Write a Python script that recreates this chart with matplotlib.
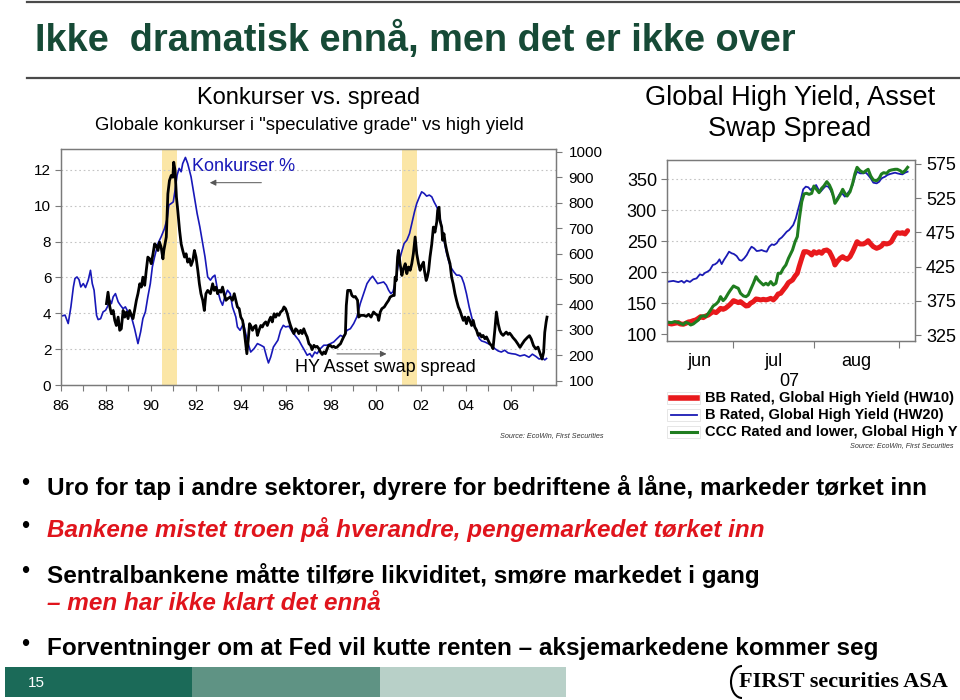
import matplotlib
matplotlib.use('Agg')
import matplotlib.pyplot as plt
from matplotlib.ticker import FixedLocator, FixedFormatter, NullFormatter
from matplotlib.patches import Rectangle, Arc
from matplotlib.lines import Line2D

plt.rcParams['font.family'] = ['Liberation Sans', 'DejaVu Sans']
SLIDE_FONT = ['Liberation Sans', 'DejaVu Sans']

# ---- left chart: default rate (%) vs HY asset swap spread (bp) ----
konk_year = [1986.00, 1986.18, 1986.32, 1986.44, 1986.55, 1986.62, 1986.71, 1986.80, 1986.88, 1986.99,
             1987.09, 1987.21, 1987.31, 1987.39, 1987.47, 1987.58, 1987.65, 1987.76, 1987.87, 1987.98,
             1988.06, 1988.17, 1988.24, 1988.32, 1988.42, 1988.54, 1988.64, 1988.76, 1988.86, 1988.98,
             1989.13, 1989.27, 1989.42, 1989.54, 1989.64, 1989.75, 1989.86, 1989.97, 1990.06, 1990.16,
             1990.31, 1990.45, 1990.60, 1990.72, 1990.79, 1990.90, 1990.99, 1991.07, 1991.16, 1991.25,
             1991.34, 1991.41, 1991.53, 1991.63, 1991.78, 1991.93, 1992.05, 1992.17, 1992.30, 1992.40,
             1992.52, 1992.64, 1992.74, 1992.84, 1992.96, 1993.08, 1993.18, 1993.28, 1993.40, 1993.52,
             1993.62, 1993.77, 1993.84, 1993.96, 1994.11, 1994.21, 1994.32, 1994.43, 1994.58, 1994.73,
             1994.88, 1995.02, 1995.14, 1995.22, 1995.32, 1995.44, 1995.54, 1995.64, 1995.76, 1995.88,
             1995.98, 1996.13, 1996.28, 1996.43, 1996.57, 1996.69, 1996.82, 1996.94, 1997.06, 1997.16,
             1997.28, 1997.38, 1997.53, 1997.68, 1997.83, 1997.97, 1998.12, 1998.27, 1998.42, 1998.56,
             1998.71, 1998.86, 1999.01, 1999.15, 1999.30, 1999.45, 1999.60, 1999.75, 1999.85, 1999.97,
             2000.07, 2000.19, 2000.34, 2000.46, 2000.56, 2000.66, 2000.75, 2000.81, 2000.90, 2001.00,
             2001.12, 2001.25, 2001.37, 2001.49, 2001.59, 2001.71, 2001.81, 2001.93, 2002.03, 2002.14,
             2002.25, 2002.37, 2002.48, 2002.58, 2002.70, 2002.82, 2002.92, 2003.02, 2003.14, 2003.26,
             2003.36, 2003.46, 2003.58, 2003.70, 2003.80, 2003.91, 2004.02, 2004.14, 2004.25, 2004.35,
             2004.47, 2004.59, 2004.69, 2004.84, 2004.98, 2005.13, 2005.28, 2005.43, 2005.57, 2005.72,
             2005.87, 2006.02, 2006.20, 2006.40, 2006.60, 2006.80, 2006.95, 2007.10, 2007.25, 2007.40,
             2007.50, 2007.58]
konk_pct = [3.84, 3.90, 3.43, 4.36, 5.47, 5.94, 6.03, 5.88, 5.47, 5.66,
            5.44, 5.85, 6.40, 5.66, 5.29, 3.89, 3.65, 3.70, 4.08, 4.17,
            4.36, 4.73, 4.54, 4.92, 5.10, 4.64, 4.45, 4.26, 4.36, 4.08,
            3.80, 3.15, 2.31, 2.97, 3.71, 4.08, 4.92, 5.66, 6.59, 7.15,
            7.90, 8.27, 8.73, 9.29, 10.04, 10.13, 10.22, 10.87, 11.71, 12.09,
            11.90, 12.36, 12.70, 12.36, 11.62, 10.50, 9.57, 8.83, 7.90, 7.15,
            6.03, 5.85, 6.03, 6.13, 5.29, 4.73, 4.45, 4.92, 5.29, 5.10,
            4.36, 3.80, 3.24, 3.05, 3.43, 2.87, 2.31, 1.84, 2.03, 2.31,
            2.22, 2.12, 1.56, 1.23, 1.56, 2.12, 2.31, 2.50, 3.05, 3.33,
            3.24, 3.28, 2.97, 2.72, 2.50, 2.22, 1.94, 1.66, 1.75, 1.56,
            1.84, 1.75, 2.03, 2.22, 2.22, 2.31, 2.40, 2.59, 2.77, 2.68,
            3.05, 3.14, 3.43, 3.80, 4.54, 5.10, 5.66, 5.94, 6.07, 5.85,
            5.66, 5.70, 5.75, 5.57, 5.29, 5.10, 5.20, 5.47, 6.03, 6.78,
            7.34, 7.90, 8.08, 8.45, 9.01, 9.66, 10.13, 10.50, 10.78, 10.69,
            10.54, 10.60, 10.50, 10.22, 9.94, 9.48, 8.83, 8.08, 7.34, 6.78,
            6.50, 6.31, 6.13, 6.13, 6.03, 5.66, 5.10, 4.36, 3.80, 3.33,
            3.05, 2.59, 2.46, 2.40, 2.31, 2.22, 2.03, 1.90, 1.84, 1.94,
            1.79, 1.75, 1.72, 1.62, 1.68, 1.55, 1.72, 1.60, 1.45, 1.50,
            1.40, 1.48]

hy_year = [1988.02, 1988.09, 1988.17, 1988.24, 1988.32, 1988.39, 1988.46, 1988.54, 1988.61, 1988.68,
           1988.76, 1988.83, 1988.91, 1988.98, 1989.05, 1989.13, 1989.20, 1989.27, 1989.35, 1989.42,
           1989.50, 1989.57, 1989.64, 1989.72, 1989.79, 1989.86, 1989.94, 1990.01, 1990.09, 1990.16,
           1990.23, 1990.31, 1990.38, 1990.45, 1990.53, 1990.57, 1990.68, 1990.75, 1990.82, 1990.90,
           1990.97, 1991.01, 1991.07, 1991.13, 1991.19, 1991.27, 1991.34, 1991.41, 1991.49, 1991.56,
           1991.63, 1991.71, 1991.78, 1991.86, 1991.93, 1992.00, 1992.08, 1992.15, 1992.22, 1992.30,
           1992.37, 1992.44, 1992.52, 1992.64, 1992.74, 1992.81, 1992.89, 1992.96, 1993.03, 1993.11,
           1993.18, 1993.25, 1993.33, 1993.40, 1993.52, 1993.62, 1993.70, 1993.77, 1993.84, 1993.92,
           1993.99, 1994.07, 1994.14, 1994.21, 1994.26, 1994.32, 1994.38, 1994.43, 1994.51, 1994.58,
           1994.66, 1994.73, 1994.80, 1994.88, 1994.95, 1995.02, 1995.10, 1995.17, 1995.25, 1995.32,
           1995.39, 1995.47, 1995.54, 1995.61, 1995.69, 1995.76, 1995.84, 1995.91, 1995.98, 1996.06,
           1996.13, 1996.20, 1996.28, 1996.35, 1996.43, 1996.50, 1996.57, 1996.65, 1996.72, 1996.79,
           1996.87, 1996.94, 1997.02, 1997.09, 1997.16, 1997.24, 1997.31, 1997.38, 1997.46, 1997.53,
           1997.61, 1997.68, 1997.75, 1997.83, 1997.90, 1997.97, 1998.05, 1998.12, 1998.20, 1998.27,
           1998.34, 1998.42, 1998.49, 1998.56, 1998.64, 1998.68, 1998.74, 1998.86, 1998.93, 1999.01,
           1999.08, 1999.18, 1999.23, 1999.33, 1999.45, 1999.57, 1999.67, 1999.78, 1999.89, 1999.97,
           2000.07, 2000.12, 2000.19, 2000.26, 2000.37, 2000.46, 2000.56, 2000.63, 2000.75, 2000.81,
           2000.85, 2000.90, 2000.96, 2001.00, 2001.07, 2001.15, 2001.22, 2001.30, 2001.37, 2001.44,
           2001.52, 2001.59, 2001.66, 2001.74, 2001.81, 2001.89, 2001.96, 2002.03, 2002.11, 2002.15,
           2002.23, 2002.28, 2002.34, 2002.40, 2002.48, 2002.55, 2002.62, 2002.70, 2002.74, 2002.80,
           2002.84, 2002.92, 2002.96, 2003.02, 2003.08, 2003.14, 2003.21, 2003.29, 2003.36, 2003.43,
           2003.51, 2003.58, 2003.66, 2003.73, 2003.80, 2003.88, 2003.95, 2004.02, 2004.10, 2004.17,
           2004.25, 2004.32, 2004.39, 2004.47, 2004.54, 2004.61, 2004.69, 2004.76, 2004.84, 2004.91,
           2004.98, 2005.06, 2005.13, 2005.20, 2005.28, 2005.35, 2005.43, 2005.50, 2005.57, 2005.65,
           2005.72, 2005.79, 2005.87, 2005.94, 2006.02, 2006.08, 2006.20, 2006.30, 2006.40, 2006.50,
           2006.60, 2006.74, 2006.82, 2006.90, 2007.00, 2007.10, 2007.20, 2007.30, 2007.38, 2007.45,
           2007.50, 2007.56, 2007.60]
hy_spread = [403, 448, 390, 363, 376, 337, 317, 350, 298, 304,
             376, 350, 370, 344, 376, 357, 344, 376, 416, 442,
             481, 468, 507, 475, 534, 586, 579, 560, 599, 638,
             632, 612, 645, 625, 579, 612, 665, 835, 887, 907,
             900, 959, 926, 822, 769, 691, 638, 612, 586, 599,
             566, 579, 553, 573, 612, 586, 534, 481, 442, 416,
             376, 442, 455, 442, 481, 455, 468, 442, 455, 448,
             468, 442, 416, 422, 429, 416, 442, 416, 390, 383,
             350, 337, 298, 245, 206, 259, 324, 317, 298, 311,
             317, 278, 298, 317, 311, 324, 331, 317, 337, 350,
             331, 363, 350, 363, 357, 370, 376, 390, 383, 363,
             337, 317, 298, 285, 304, 298, 285, 298, 285, 304,
             285, 272, 245, 239, 222, 239, 232, 235, 226, 213,
             203, 213, 206, 226, 239, 239, 232, 235, 230, 232,
             239, 245, 259, 272, 285, 396, 455, 455, 435, 429,
             431, 416, 350, 357, 357, 353, 361, 350, 370, 363,
             357, 337, 370, 383, 390, 403, 416, 429, 435, 435,
             507, 494, 586, 612, 560, 514, 540, 560, 521, 547,
             534, 560, 599, 665, 599, 560, 534, 553, 566, 534,
             494, 507, 534, 586, 638, 704, 684, 724, 769, 782,
             730, 704, 652, 678, 638, 612, 586, 560, 507, 481,
             442, 416, 390, 376, 357, 337, 350, 324, 350, 337,
             317, 337, 311, 298, 278, 285, 272, 278, 265, 272,
             259, 245, 239, 226, 298, 370, 324, 298, 285, 278,
             285, 291, 282, 287, 278, 270, 258, 245, 231, 245,
             258, 271, 277, 264, 238, 225, 232, 205, 185, 212,
             290, 330, 350]

year_ticks = [1986, 1988, 1990, 1992, 1994, 1996, 1998, 2000, 2002, 2004, 2006]
year_labels = ['86', '88', '90', '92', '94', '96', '98', '00', '02', '04', '06']
recessions = [(1990.49, 1991.14), (2001.17, 2001.82)]

# ---- right chart: asset swap spread by rating, summer 2007 (business days) ----
bb_day = [0.45, 1.3, 2.2, 3.15, 3.7, 4.5, 5.2, 5.9, 6.5, 7.2, 7.9, 8.6, 9.2, 9.9, 10.6, 11.3,
          11.9, 12.6, 13.4, 14.0, 14.6, 15.3, 15.9, 16.7, 17.3, 18.1, 18.8, 19.4, 20.0, 20.8,
          21.5, 22.1, 22.7, 23.5, 24.2, 24.8, 25.5, 26.2, 26.9, 27.5, 28.2, 28.9, 29.6, 30.2,
          30.9, 31.6, 32.3, 33.0, 34.1, 34.8, 35.4, 35.9, 36.6, 37.2, 37.9, 38.6, 39.3, 39.9,
          40.6, 41.3, 42.0, 42.6, 43.4, 44.1, 44.7, 45.2, 45.6, 46.2, 47.0, 47.7, 48.3, 48.9,
          49.7, 50.4, 51.0, 51.6, 52.4, 53.3, 54.0, 54.6, 55.3, 56.0, 56.9, 57.6, 58.2, 58.8,
          59.6, 60.3, 60.9, 61.9, 62.5, 63.3, 63.9, 64.6, 65.3]
bb_val = [117.7, 116.6, 117.7, 118.8, 116.6, 116.1, 117.7, 119.9, 120.4, 122.0, 123.1, 125.8,
          128.4, 126.8, 129.5, 131.1, 133.8, 136.5, 134.9, 138.1, 141.8, 140.2, 141.8, 145.6,
          148.8, 154.2, 152.6, 151.0, 152.6, 148.8, 145.6, 146.1, 149.9, 152.6, 156.9, 156.3,
          155.3, 156.3, 155.3, 156.3, 157.9, 155.3, 159.5, 164.9, 166.0, 171.4, 176.7, 183.2,
          187.4, 193.9, 198.2, 208.9, 222.3, 233.0, 233.0, 231.4, 227.7, 233.0, 230.4, 233.0,
          230.4, 234.7, 235.7, 233.0, 226.1, 219.6, 211.6, 217.0, 222.3, 225.0, 222.3, 220.7,
          225.0, 233.0, 241.0, 249.1, 245.4, 245.4, 247.5, 250.7, 245.4, 241.1, 238.4, 240.0,
          242.2, 246.5, 245.4, 246.5, 249.1, 259.9, 263.6, 262.5, 263.6, 261.5, 266.8]

b_day = [0.45, 1.8, 3.15, 4.06, 4.7, 5.4, 6.3, 7.2, 8.1, 9.0, 9.7, 10.4, 11.0, 11.7, 12.5,
         13.1, 13.7, 14.3, 14.9, 15.5, 16.2, 16.9, 17.6, 18.2, 18.96, 19.7, 20.3, 21.0, 21.7,
         22.4, 23.0, 23.7, 24.4, 25.1, 25.7, 26.4, 27.1, 27.8, 28.5, 29.1, 29.8, 30.5, 31.2,
         31.8, 32.5, 33.2, 34.3, 35.0, 35.7, 36.3, 37.0, 37.7, 38.4, 39.0, 39.7, 40.5, 41.1,
         41.7, 42.5, 43.1, 43.8, 44.4, 45.2, 45.6, 46.2, 47.0, 47.7, 48.3, 48.9, 49.7, 50.4,
         51.0, 51.6, 52.4, 53.3, 54.0, 54.6, 55.3, 56.0, 56.9, 57.6, 58.2, 59.2, 59.8, 60.5,
         61.2, 61.9, 62.5, 63.3, 63.9, 64.6, 65.3]
b_val = [184.8, 186.0, 184.0, 186.0, 183.0, 186.5, 184.3, 188.5, 190.0, 196.6, 195.0, 199.0,
         200.6, 203.5, 211.6, 212.7, 215.4, 220.7, 213.0, 219.6, 226.0, 233.0, 230.4, 229.3,
         226.0, 219.6, 218.5, 222.3, 227.6, 235.7, 241.0, 238.4, 234.0, 234.6, 235.7, 234.0,
         233.0, 241.0, 244.8, 243.7, 246.5, 252.9, 256.0, 260.0, 265.0, 268.0, 276.0, 286.7,
         302.8, 316.0, 333.4, 337.7, 336.6, 332.3, 336.6, 340.3, 333.4, 329.6, 335.0, 338.7,
         337.7, 332.3, 321.6, 312.0, 318.9, 327.0, 325.9, 321.6, 325.9, 332.3, 340.3, 353.8,
         361.8, 359.1, 359.1, 360.2, 356.4, 351.0, 344.1, 343.0, 345.7, 351.0, 353.8, 356.4,
         358.0, 359.1, 360.2, 359.1, 358.0, 357.5, 360.2, 361.8]

ccc_day = [0.45, 1.3, 2.2, 3.15, 3.7, 4.5, 5.2, 5.9, 6.5, 7.2, 7.9, 8.6, 9.2, 9.9, 10.6, 11.3,
           11.9, 12.6, 13.4, 14.0, 14.6, 15.3, 15.9, 16.7, 17.3, 18.1, 18.8, 19.4, 20.0, 20.8,
           21.5, 22.1, 22.7, 23.5, 24.2, 24.8, 25.5, 26.2, 26.9, 27.5, 28.2, 28.9, 29.6, 30.2,
           30.9, 31.6, 32.3, 33.0, 34.1, 34.8, 35.4, 35.9, 36.6, 37.2, 37.9, 38.6, 39.3, 39.9,
           40.6, 41.3, 42.0, 42.6, 43.4, 44.1, 44.7, 45.2, 45.6, 46.2, 47.0, 47.7, 48.3, 48.9,
           49.7, 50.4, 51.0, 51.6, 52.4, 53.3, 54.0, 54.6, 55.3, 56.0, 56.9, 57.6, 58.2, 58.8,
           59.6, 60.3, 60.9, 61.9, 62.5, 63.3, 63.9, 64.6, 65.3]
ccc_val = [119.3, 118.8, 120.4, 118.8, 117.7, 115.6, 119.3, 117.7, 115.0, 116.6, 119.9, 123.1,
           128.4, 130.0, 128.4, 133.8, 139.2, 145.6, 148.8, 152.6, 160.6, 154.2, 157.9, 166.0,
           171.4, 177.8, 175.6, 174.0, 166.0, 161.7, 160.6, 163.3, 171.4, 182.1, 192.8, 187.4,
           183.2, 179.4, 182.1, 179.4, 184.8, 179.4, 182.1, 198.2, 198.2, 206.2, 211.6, 222.3,
           235.7, 249.1, 257.2, 284.0, 313.5, 325.9, 327.0, 325.3, 327.0, 338.7, 333.4, 328.0,
           335.0, 338.7, 345.7, 340.3, 332.3, 321.6, 310.8, 316.2, 324.2, 333.4, 327.0, 322.6,
           329.6, 343.0, 358.0, 368.8, 363.4, 360.2, 363.4, 365.6, 354.8, 348.4, 347.3, 351.1,
           358.0, 360.2, 359.1, 363.4, 364.5, 365.6, 365.6, 363.4, 360.2, 363.4, 368.8]

month_edges = [18.0, 40.0, 63.0]
month_mid = [9.0, 29.0, 51.5]
month_labels = ['jun', 'jul', 'aug']
legend_labels = ['BB Rated, Global High Yield (HW10)', 'B Rated, Global High Yield (HW20)',
                 'CCC Rated and lower, Global High Y']

bullets = ['Uro for tap i andre sektorer, dyrere for bedriftene å låne, markeder tørket inn',
           'Bankene mistet troen på hverandre, pengemarkedet tørket inn',
           'Sentralbankene måtte tilføre likviditet, smøre markedet i gang',
           'Forventninger om at Fed vil kutte renten – aksjemarkedene kommer seg']
sub_bullet = '– men har ikke klart det ennå'

W, H = 960, 700


def fx(x):
    return x / W


def fy(y):
    return 1 - y / H


fig = plt.figure(figsize=(9.6, 7), dpi=100)
fig.patch.set_facecolor('white')

SPINE = '#7a7a7a'

# header
fig.add_artist(Line2D([fx(27), 1], [fy(2), fy(2)], color='#4a4a4a', lw=1.6))
fig.add_artist(Line2D([fx(27), 1], [fy(78), fy(78)], color='#4a4a4a', lw=1.6))
fig.text(fx(35), fy(40), 'Ikke  dramatisk ennå, men det er ikke over', family=SLIDE_FONT,
         fontsize=27.3, fontweight='bold', color='#164a36', va='center', ha='left')

# ---------------- left chart ----------------
ax1 = fig.add_axes([fx(61), fy(385), (556 - 61) / W, (385 - 149) / H])
for a, b in recessions:
    ax1.axvspan(a, b, color='#fbe6a6', lw=0, zorder=0)
ax1.plot(konk_year, konk_pct, color='#1818b8', lw=1.2, zorder=3)
ax1.set_xlim(1986, 2008)
ax1.set_ylim(0, 13.17)
ax1.xaxis.set_major_locator(FixedLocator(year_ticks))
ax1.xaxis.set_major_formatter(FixedFormatter(year_labels))
ax1.xaxis.set_minor_locator(FixedLocator(list(range(1987, 2008, 2))))
ax1.set_yticks([0, 2, 4, 6, 8, 10, 12])
ax1.tick_params(axis='both', which='both', direction='out', color=SPINE, labelsize=11, length=4, width=0.8)
ax1.tick_params(axis='x', pad=6)
ax1.tick_params(axis='y', pad=3)
for v in [2, 4, 6, 8, 10, 12]:
    ax1.axhline(v, color='#c4c4c4', lw=0.8, ls=(0, (1.5, 2.5)), zorder=1)
for s in ax1.spines.values():
    s.set_color(SPINE)
    s.set_linewidth(0.9)

ax2 = ax1.twinx()
ax2.plot(hy_year, hy_spread, color='black', lw=2.0, zorder=4)
ax2.set_ylim(83, 1011)
ax2.set_yticks(list(range(100, 1001, 100)))
ax2.tick_params(axis='y', direction='out', color=SPINE, labelsize=11, length=4, width=0.8, pad=5)
for s in ax2.spines.values():
    s.set_color(SPINE)
    s.set_linewidth(0.9)

ax1.text(1991.83, 12.18, 'Konkurser %', color='#1818b8', fontsize=13, va='center', ha='left', zorder=6)
ax1.annotate('', xy=(1992.49, 11.29), xytext=(1995.03, 11.29),
             arrowprops=dict(arrowstyle='-|>', color='#555555', lw=0.7, mutation_scale=9))
ax1.text(1996.42, 0.98, 'HY Asset swap spread', color='black', fontsize=13, va='center', ha='left', zorder=6)
ax1.annotate('', xy=(2000.59, 1.735), xytext=(1998.14, 1.735),
             arrowprops=dict(arrowstyle='-|>', color='#555555', lw=0.7, mutation_scale=9))

fig.text(fx(309), fy(98), 'Konkurser vs. spread', fontsize=17, ha='center', va='center')
fig.text(fx(309), fy(125), 'Globale konkurser i "speculative grade" vs high yield', fontsize=13.3,
         ha='center', va='center')
fig.text(fx(604), fy(436), 'Source: EcoWin, First Securities', fontsize=5.2, style='italic',
         ha='right', va='center', color='#333333')

# ---------------- right chart ----------------
axr = fig.add_axes([fx(666.7), fy(340.5), (915 - 666.7) / W, (340.5 - 160) / H])
axr.plot(bb_day, bb_val, color='#e8191c', lw=3.6, solid_capstyle='round', zorder=3)
axr.plot(b_day, b_val, color='#1a1ab4', lw=1.3, zorder=4)
axr.plot(ccc_day, ccc_val, color='#1f7d1f', lw=2.2, zorder=5)
axr.set_xlim(0, 67.3)
axr.set_ylim(90, 380.6)
axr.set_yticks([100, 150, 200, 250, 300, 350])
axr.xaxis.set_major_locator(FixedLocator(month_edges))
axr.xaxis.set_major_formatter(NullFormatter())
axr.xaxis.set_minor_locator(FixedLocator(month_mid))
axr.xaxis.set_minor_formatter(FixedFormatter(month_labels))
axr.tick_params(axis='x', which='major', direction='out', length=5, color=SPINE, width=0.8)
axr.tick_params(axis='x', which='minor', length=0, labelsize=13, pad=9)
axr.tick_params(axis='y', direction='out', length=4, color=SPINE, labelsize=13, pad=3, width=0.8)
for v in [150, 200, 250, 300, 350]:
    axr.axhline(v, color='#c4c4c4', lw=0.8, ls=(0, (1.5, 2.5)), zorder=1)
for s in axr.spines.values():
    s.set_color(SPINE)
    s.set_linewidth(0.9)

axr2 = axr.twinx()
axr2.set_ylim(317, 580.8)
axr2.set_yticks([325, 375, 425, 475, 525, 575])
axr2.tick_params(axis='y', direction='out', length=4, color=SPINE, labelsize=13, pad=4, width=0.8)
for s in axr2.spines.values():
    s.set_color(SPINE)
    s.set_linewidth(0.9)

fig.text(fx(790), fy(98), 'Global High Yield, Asset', fontsize=19.5, ha='center', va='center')
fig.text(fx(790), fy(129), 'Swap Spread', fontsize=19.5, ha='center', va='center')
fig.text(fx(789), fy(382), '07', fontsize=13, ha='center', va='center')

leg_y = [398, 415, 432]
leg_style = [('#e8191c', 4.0), ('#1a1ab4', 1.3), ('#1f7d1f', 2.2)]
for yy, (c, lw), lab in zip(leg_y, leg_style, legend_labels):
    fig.add_artist(Rectangle((fx(667), fy(yy + 6)), 33 / W, 12 / H, transform=fig.transFigure,
                             facecolor='none', edgecolor='#e2e2e2', lw=0.6))
    fig.add_artist(Line2D([fx(671), fx(697)], [fy(yy), fy(yy)], color=c, lw=lw))
    fig.text(fx(705), fy(yy), lab, fontsize=10.5, fontweight='bold', ha='left', va='center')
fig.text(fx(954), fy(446), 'Source: EcoWin, First Securities', fontsize=5.2, style='italic',
         ha='right', va='center', color='#333333')

# ---------------- bullets ----------------
bullet_y = [487, 530, 575, 648]
bullet_col = ['black', '#e0141c', 'black', 'black']
bullet_style = ['normal', 'italic', 'normal', 'normal']
for yy, txt, c, st in zip(bullet_y, bullets, bullet_col, bullet_style):
    fig.text(fx(21), fy(yy - 3), '•', family=SLIDE_FONT, fontsize=17, ha='left', va='center', color='black')
    fig.text(fx(47), fy(yy), txt, family=SLIDE_FONT, fontsize=17.5, fontweight='bold', style=st,
             color=c, ha='left', va='center')
fig.text(fx(47), fy(604), sub_bullet, family=SLIDE_FONT, fontsize=17.5, fontweight='bold', style='italic',
         color='#e0141c', ha='left', va='center')

# ---------------- footer ----------------
for x0, x1, c in [(5, 192, '#1b6a58'), (192, 380, '#5f9384'), (380, 566, '#b8d0c8')]:
    fig.add_artist(Rectangle((fx(x0), fy(697)), (x1 - x0) / W, 30 / H, transform=fig.transFigure,
                             facecolor=c, edgecolor='none'))
fig.text(fx(28), fy(683), '15', color='white', fontsize=11, ha='left', va='center')
fig.add_artist(Arc((fx(742), fy(682)), 22 / W, 32 / H, theta1=90, theta2=270,
                   transform=fig.transFigure, color='black', lw=1.5))
fig.text(fx(948), fy(682), 'FIRST securities ASA', family=['Liberation Serif', 'DejaVu Serif'],
         fontsize=16, fontweight='bold', ha='right', va='center')

fig.savefig('out.png', dpi=100)
